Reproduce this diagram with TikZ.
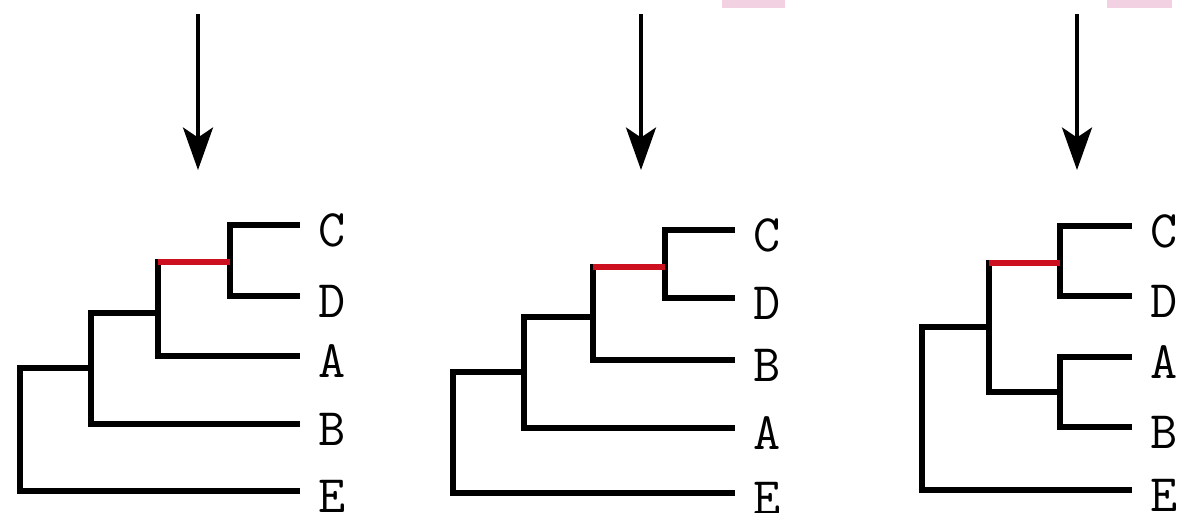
\documentclass[tikz,border=0pt]{standalone}
\usepackage{fontspec}
\usetikzlibrary{arrows.meta, positioning}
\definecolor{moved}{HTML}{CC1020}
\definecolor{marker}{HTML}{F2D2E2}

\begin{document}
\begin{tikzpicture}[x=0.02cm, y=-0.02cm,
    edge/.style={line width=3.6pt, line join=miter},
    cutedge/.style={line width=3.1pt, moved},
    pointer/.style={line width=2pt, -{Stealth[length=0.85cm, width=0.6cm, inset=0.2cm]}},
    leaf/.style={anchor=west, inner sep=0pt, xshift=0.36cm, yshift=-0.1cm,
      font=\ttfamily\fontsize{30}{32}\selectfont}]
  \useasboundingbox (0,0) rectangle (1190,512);

  % Highlight marks at the top edge
  \fill[marker] (722,0) rectangle (785,8);
  \fill[marker] (1107,0) rectangle (1172,8);

  % Arrows down to the trees
  \foreach \t/\x in {a/198, b/641, c/1077} {
    \coordinate (\t top) at (\x,14);
    \coordinate (\t tip) at (\x,170);
    \draw[pointer] (\t top) -- (\t tip);
  }

  % Tree a: ((((C,D),A),B),E)
  \foreach \n/\y in {C/225, D/296, A/356, B/424, E/491} {
    \coordinate (a\n) at (300,\y);
    \node[leaf] (a\n lab) at (a\n) {\n};
  }
  \coordinate (acd) at (230,262);
  \coordinate (acda) at (158,313);
  \coordinate (acdab) at (91,368);
  \coordinate (aroot) at (20,430);
  \draw[edge] (aC) -| (acd) |- (aD);
  \draw[edge] (acd) -| (acda) |- (aA);
  \draw[edge] (acda) -| (acdab) |- (aB);
  \draw[edge] (acdab) -| (aroot) |- (aE);
  \draw[cutedge] (acd) -- (acd -| acda);

  % Tree b: ((((C,D),B),A),E)
  \foreach \n/\y in {C/230, D/298, B/360, A/428, E/493} {
    \coordinate (b\n) at (735,\y);
    \node[leaf] (b\n lab) at (b\n) {\n};
  }
  \coordinate (bcd) at (665,267);
  \coordinate (bcdb) at (593,317);
  \coordinate (bcdba) at (524,372);
  \coordinate (broot) at (453,430);
  \draw[edge] (bC) -| (bcd) |- (bD);
  \draw[edge] (bcd) -| (bcdb) |- (bB);
  \draw[edge] (bcdb) -| (bcdba) |- (bA);
  \draw[edge] (bcdba) -| (broot) |- (bE);
  \draw[cutedge] (bcd) -- (bcd -| bcdb);

  % Tree c: (((C,D),(A,B)),E)
  \foreach \n/\y in {C/226, D/296, A/357, B/427, E/490} {
    \coordinate (c\n) at (1132,\y);
    \node[leaf] (c\n lab) at (c\n) {\n};
  }
  \coordinate (ccd) at (1060,263);
  \coordinate (cab) at (1060,392);
  \coordinate (ccdab) at (989,327);
  \coordinate (croot) at (922,410);
  \draw[edge] (cC) -| (ccd) |- (cD);
  \draw[edge] (cA) -| (cab) |- (cB);
  \draw[edge] (ccd) -| (ccdab) |- (cab);
  \draw[edge] (ccdab) -| (croot) |- (cE);
  \draw[cutedge] (ccd) -- (ccd -| ccdab);
\end{tikzpicture}
\end{document}
